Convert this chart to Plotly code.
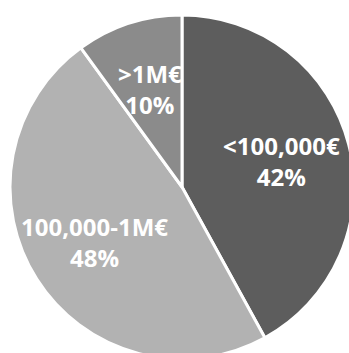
import math
import plotly.graph_objects as go

labels = ["<100,000€", "100,000-1M€", ">1M€"]
values = [42, 48, 10]
colors = ["#5d5d5d", "#b2b2b2", "#8b8b8b"]

# the reference crops the pie at the right and bottom edges, so the figure is
# drawn slightly larger than the 349x353 window and the overflow is hidden
W, H = 362, 362
cx_px, cy_px, R_px = 182, 187, 172   # pie centre / radius in page pixels
dom_x = [(cx_px - R_px) / W, (cx_px + R_px) / W]
dom_y = [1 - (cy_px + R_px) / H, 1 - (cy_px - R_px) / H]
label_r = 0.6  # fraction of radius where labels sit

fig = go.Figure(go.Pie(
    labels=labels,
    values=values,
    sort=False,
    direction="clockwise",
    rotation=0,
    marker=dict(colors=colors, line=dict(color="white", width=3)),
    textinfo="none",
    domain=dict(x=dom_x, y=dom_y),
    hoverinfo="skip",
))

total = sum(values)
cum = 0
for lab, v in zip(labels, values):
    mid = (cum + v / 2) / total * 2 * math.pi
    cum += v
    x = cx_px + label_r * R_px * math.sin(mid)
    y = cy_px - label_r * R_px * math.cos(mid)
    fig.add_annotation(
        x=x / W, y=1 - y / H, xref="paper", yref="paper",
        text=f"{lab}<br>{round(v / total * 100)}%",
        showarrow=False, xanchor="center", yanchor="middle",
        font=dict(family="Open Sans", size=24, color="white", weight="bold"),
    )

fig.update_layout(
    width=W, height=H,
    margin=dict(l=0, r=0, t=0, b=0),
    showlegend=False,
    paper_bgcolor="white",
)
fig.write_html(
    "out.html",
    post_script="document.documentElement.style.overflow='hidden';document.body.style.overflow='hidden';",
)
